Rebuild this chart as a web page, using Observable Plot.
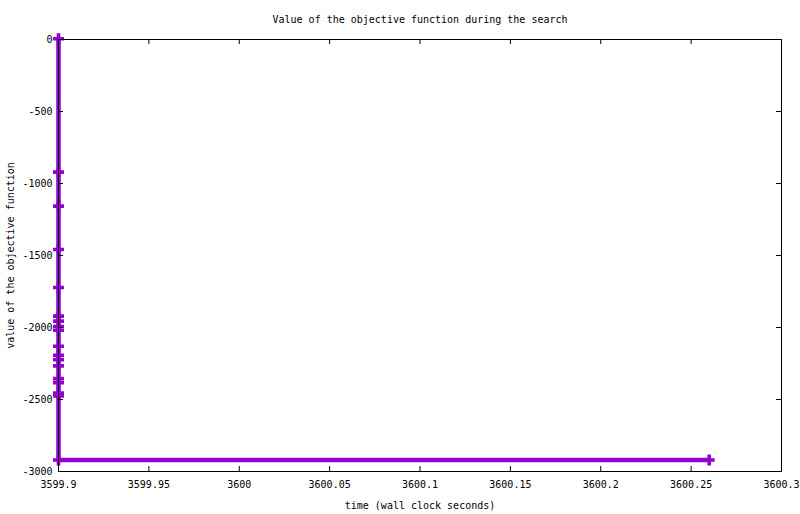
<!DOCTYPE html>
<html>
<head>
<meta charset="utf-8">
<script src="https://cdn.jsdelivr.net/npm/d3@7"></script>
<script src="https://cdn.jsdelivr.net/npm/@observablehq/plot@0.6"></script>
<style>
  body { margin: 0; background: white; }
</style>
</head>
<body>
<div id="chart"></div>
<script>
const times = [3599.9, 3599.9, 3599.9, 3599.9, 3599.9, 3599.9, 3599.9, 3599.9, 3599.9, 3599.9,
               3599.9, 3599.9, 3599.9, 3599.9, 3599.9, 3599.9, 3599.9, 3599.9, 3600.26];
const values = [5, -921, -1157, -1458, -1722, -1921, -1956, -1993, -2019, -2130,
                -2194, -2224, -2266, -2355, -2383, -2455, -2475, -2920, -2920];
const xTicks = [3599.9, 3599.95, 3600, 3600.05, 3600.1, 3600.15, 3600.2, 3600.25, 3600.3];
const xTickLabels = ["3599.9", "3599.95", "3600", "3600.05", "3600.1", "3600.15", "3600.2", "3600.25", "3600.3"];
const yTicks = [0, -500, -1000, -1500, -2000, -2500, -3000];
const yTickLabels = ["0", "-500", "-1000", "-1500", "-2000", "-2500", "-3000"];

const titleText = "Value of the objective function during the search";
const xLabel = "time (wall clock seconds)";
const yLabel = "value of the objective function";

const data = times.map((t, i) => ({t, v: values[i]}));
const purple = "#9400D3";

const chart = Plot.plot({
  width: 800,
  height: 514,
  marginLeft: 58,
  marginRight: 19,
  marginTop: 39,
  marginBottom: 43,
  style: {background: "white", fontFamily: "DejaVu Sans Mono", fontSize: "10px", color: "black"},
  x: {domain: [3599.9, 3600.3]},
  y: {domain: [-3000, 0]},
  marks: [
    Plot.line(data, {x: "t", y: "v", stroke: purple, strokeWidth: 4.5, strokeLinecap: "butt"}),
    Plot.dot(data, {x: "t", y: "v", symbol: "cross", r: 4.6, fill: purple, stroke: null}),
    Plot.ruleX(xTicks, {x: d => d, insetTop: 427, stroke: "black"}),
    Plot.ruleX(xTicks, {x: d => d, insetBottom: 427, stroke: "black"}),
    Plot.ruleY(yTicks, {y: d => d, insetRight: 718, stroke: "black"}),
    Plot.ruleY(yTicks, {y: d => d, insetLeft: 718, stroke: "black"}),
    Plot.frame({stroke: "black", strokeWidth: 1}),
    Plot.axisX({ticks: xTicks, tickFormat: (d, i) => xTickLabels[i], tickSize: 0, tickPadding: 9, label: null, fontSize: 10}),
    Plot.axisY({ticks: yTicks, tickFormat: (d, i) => yTickLabels[i], tickSize: 0, tickPadding: 6, label: null, fontSize: 10}),
    Plot.text([titleText], {frameAnchor: "top", dy: -20, fontSize: 10, textAnchor: "middle", lineAnchor: "middle"}),
    Plot.text([xLabel], {frameAnchor: "bottom", dy: 34, fontSize: 10, textAnchor: "middle", lineAnchor: "middle"}),
    Plot.text([yLabel], {frameAnchor: "left", dx: -48, rotate: -90, fontSize: 10, textAnchor: "middle", lineAnchor: "middle"})
  ]
});
document.getElementById("chart").appendChild(chart);
</script>
</body>
</html>
